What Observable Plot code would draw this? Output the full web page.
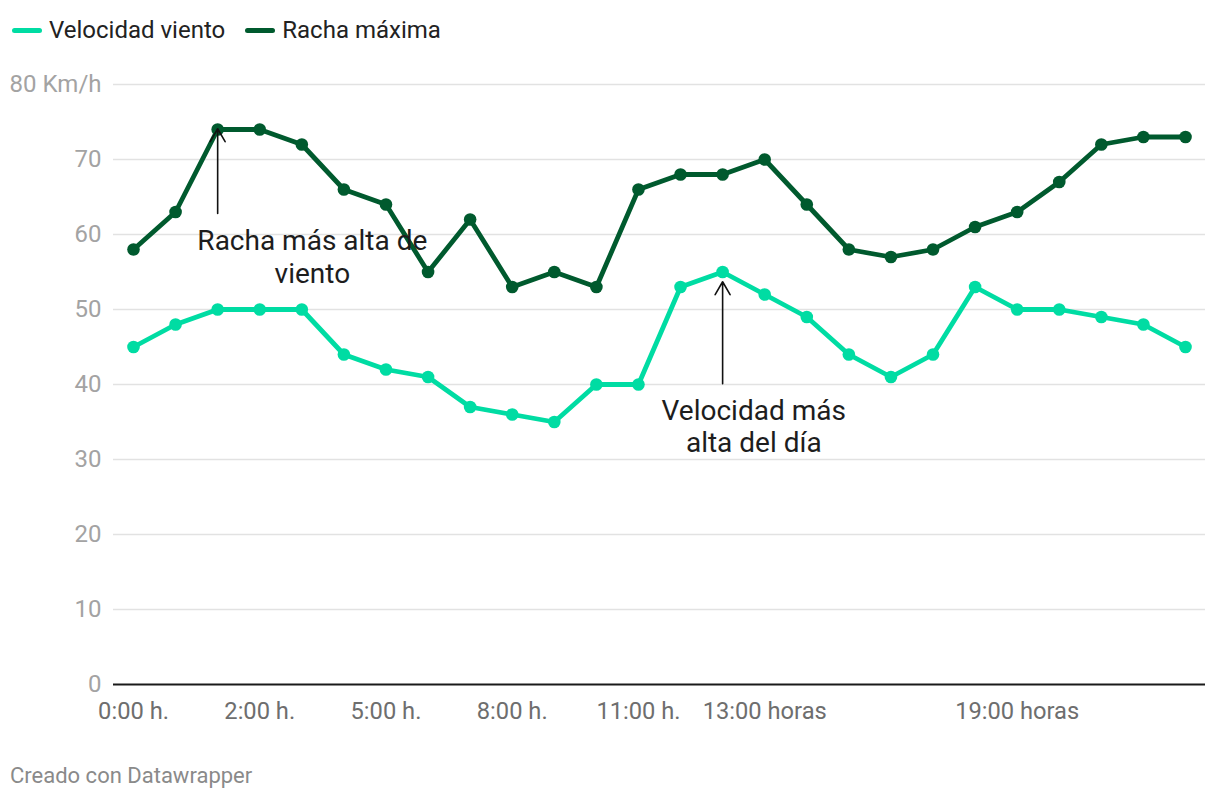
<!DOCTYPE html>
<html>
<head>
<meta charset="utf-8">
<script src="https://cdn.jsdelivr.net/npm/d3@7"></script>
<script src="https://cdn.jsdelivr.net/npm/@observablehq/plot@0.6"></script>
<style>
  html, body { margin: 0; padding: 0; background: #fff; }
  body { width: 1220px; height: 800px; position: relative; font-family: Roboto, "Noto Sans", sans-serif; overflow: hidden; }
  #legend { position: absolute; left: 12px; top: 15px; display: flex; align-items: center; font-size: 24px; line-height: 30px; color: #222; }
  .item { display: flex; align-items: center; margin-right: 20px; }
  .sw { width: 30px; height: 5px; border-radius: 3px; margin-right: 7px; }
  #chart { position: absolute; left: 0; top: 60px; }
  #footer { position: absolute; left: 10px; top: 763px; font-size: 22px; color: #8a8a8a; }
</style>
</head>
<body>
<div id="legend"></div>
<div id="chart"></div>
<div id="footer">Creado con Datawrapper</div>
<script>
// ---- data ----
const seriesNames = ["Velocidad viento", "Racha máxima"];
const seriesColors = ["#00dca3", "#005a2e"];
const velocidad = [45, 48, 50, 50, 50, 44, 42, 41, 37, 36, 35, 40, 40, 53, 55, 52, 49, 44, 41, 44, 53, 50, 50, 49, 48, 45];
const racha     = [58, 63, 74, 74, 72, 66, 64, 55, 62, 53, 55, 53, 66, 68, 68, 70, 64, 58, 57, 58, 61, 63, 67, 72, 73, 73];
const tickIndex = [0, 3, 6, 9, 12, 15, 21];
const tickLabels = ["0:00 h.", "2:00 h.", "5:00 h.", "8:00 h.", "11:00 h.", "13:00 horas", "19:00 horas"];
const yTicks = [0, 10, 20, 30, 40, 50, 60, 70, 80];
const annotationTexts = ["Racha más alta de\nviento", "Velocidad más\nalta del día"];
const arrowX = [2, 14];
const arrowFrom = [62.8, 40.1];
const arrowTo = [74.1, 53.7];
const labelX = [4.25, 14.74];
const labelY = [57.1, 34.5];

// ---- build tables ----
const rows = [];
velocidad.forEach((v, i) => rows.push({i, v, s: seriesNames[0]}));
racha.forEach((v, i) => rows.push({i, v, s: seriesNames[1]}));
const arrows = arrowX.map((x, k) => ({x, y1: arrowFrom[k], y2: arrowTo[k]}));
const labels = labelX.map((x, k) => ({x, y: labelY[k], t: annotationTexts[k]}));
const tickMap = new Map(tickIndex.map((d, k) => [d, tickLabels[k]]));

// legend
const legend = document.getElementById("legend");
seriesNames.forEach((n, k) => {
  const it = document.createElement("div");
  it.className = "item";
  it.innerHTML = `<span class="sw" style="background:${seriesColors[k]}"></span><span>${n}</span>`;
  legend.appendChild(it);
});

const plot = Plot.plot({
  width: 1220,
  height: 674,
  marginTop: 24,
  marginBottom: 50,
  marginLeft: 113,
  marginRight: 15,
  style: { fontFamily: "Roboto, sans-serif", background: "transparent" },
  x: { type: "linear", domain: [0, velocidad.length - 1], insetLeft: 20, insetRight: 20 },
  y: { domain: [0, 80] },
  color: { domain: seriesNames, range: seriesColors },
  marks: [
    Plot.ruleY(yTicks.filter(d => d > 0), { stroke: "#e2e2e2", strokeWidth: 1.5 }),
    Plot.axisY(yTicks, {
      tickSize: 0, tickPadding: 12, fontSize: 24, fill: "#a3a3a3",
      tickFormat: d => d === 80 ? "80 Km/h" : String(d), label: null
    }),
    Plot.axisX(tickIndex, {
      tickSize: 0, tickPadding: 17.5, fontSize: 23.7, fill: "#6e6e6e",
      tickFormat: d => tickMap.get(d), label: null
    }),
    Plot.ruleY([0], { stroke: "#1a1a1a", strokeWidth: 2 }),
    Plot.line(rows, { x: "i", y: "v", z: "s", stroke: "s", strokeWidth: 4.8, strokeLinejoin: "round", strokeLinecap: "round" }),
    Plot.dot(rows, { x: "i", y: "v", fill: "s", r: 6.3 }),
    Plot.arrow(arrows, { x1: "x", y1: "y1", x2: "x", y2: "y2", stroke: "#111", strokeWidth: 1.6, headLength: 14, bend: 0 }),
    Plot.text(labels, { x: "x", y: "y", text: "t", fontSize: 28, fill: "#1d1d1d", lineHeight: 1.15, textAnchor: "middle", lineAnchor: "middle" })
  ]
});
document.getElementById("chart").appendChild(plot);
</script>
</body>
</html>
